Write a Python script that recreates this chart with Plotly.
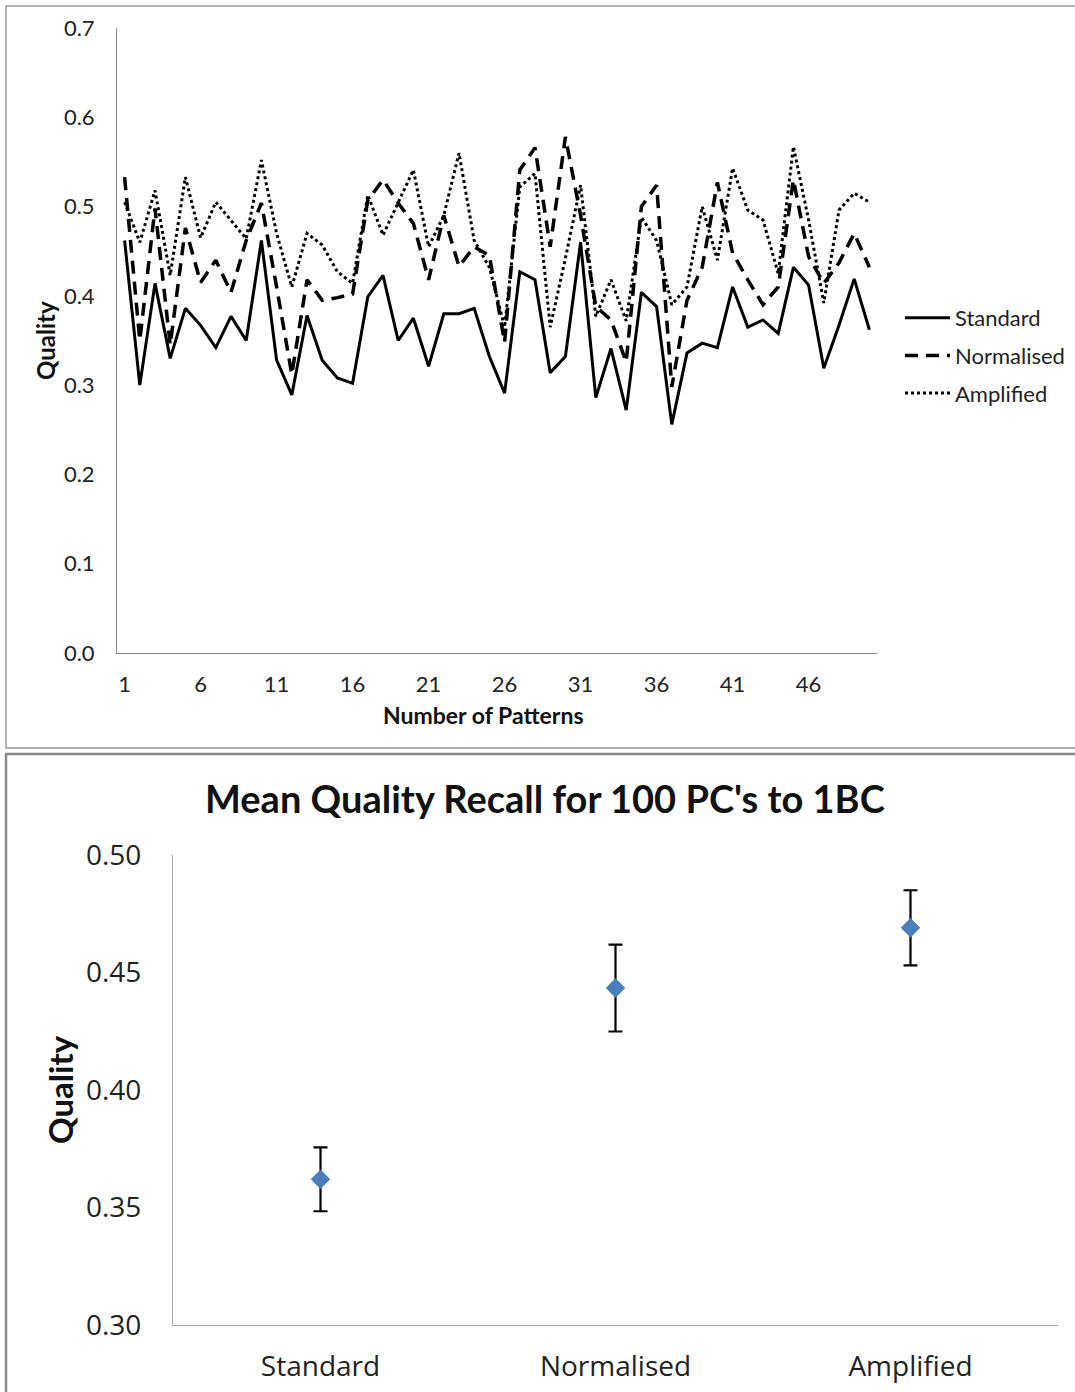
import plotly.graph_objects as go

# ---- Quality per pattern count (top chart) ----
patterns = list(range(1, 51))

standard = [0.462, 0.300, 0.414, 0.330, 0.386, 0.367, 0.342, 0.377, 0.350, 0.462,
            0.328, 0.289, 0.378, 0.328, 0.308, 0.302, 0.399, 0.423, 0.350, 0.375,
            0.321, 0.380, 0.380, 0.386, 0.332, 0.291, 0.427, 0.418, 0.314, 0.332,
            0.460, 0.286, 0.341, 0.272, 0.404, 0.388, 0.256, 0.336, 0.347, 0.342,
            0.410, 0.365, 0.373, 0.358, 0.432, 0.412, 0.319, 0.367, 0.419, 0.362]

normalised = [0.533, 0.350, 0.498, 0.345, 0.476, 0.415, 0.440, 0.404, 0.462, 0.504,
              0.410, 0.312, 0.418, 0.395, 0.398, 0.402, 0.507, 0.530, 0.504, 0.481,
              0.418, 0.490, 0.433, 0.455, 0.445, 0.348, 0.541, 0.566, 0.455, 0.578,
              0.490, 0.388, 0.373, 0.326, 0.500, 0.524, 0.298, 0.395, 0.432, 0.527,
              0.448, 0.418, 0.390, 0.410, 0.530, 0.444, 0.414, 0.437, 0.470, 0.432]

amplified = [0.505, 0.460, 0.518, 0.423, 0.533, 0.465, 0.505, 0.485, 0.464, 0.552,
             0.470, 0.410, 0.470, 0.457, 0.427, 0.414, 0.513, 0.468, 0.504, 0.541,
             0.455, 0.490, 0.560, 0.462, 0.432, 0.365, 0.522, 0.537, 0.365, 0.442,
             0.524, 0.377, 0.418, 0.372, 0.488, 0.462, 0.390, 0.410, 0.500, 0.440,
             0.543, 0.496, 0.485, 0.425, 0.567, 0.485, 0.392, 0.496, 0.515, 0.505]

x_ticks = [1, 6, 11, 16, 21, 26, 31, 36, 41, 46]
y_ticks_top = [0.0, 0.1, 0.2, 0.3, 0.4, 0.5, 0.6, 0.7]

# ---- Mean quality with error bars (bottom chart) ----
methods = ["Standard", "Normalised", "Amplified"]
mean_quality = [0.362, 0.4434, 0.4690]
quality_err = [0.0136, 0.0185, 0.0160]
y_ticks_bottom = [0.30, 0.35, 0.40, 0.45, 0.50]

W, H = 1075, 1392


def px(x):
    return x / W


def py(y):
    return (H - y) / H


CAL = "Lato, 'Open Sans', sans-serif"
SEG = "'Open Sans', 'Noto Sans', sans-serif"

fig = go.Figure()

fig.add_trace(go.Scatter(x=patterns, y=standard, mode="lines", name="Standard",
                         legendgroup="a",
                         line=dict(color="black", width=3), xaxis="x", yaxis="y"))
fig.add_trace(go.Scatter(x=patterns, y=normalised, mode="lines", name="Normalised",
                         legendgroup="b",
                         line=dict(color="black", width=3.5, dash="13px,8px"),
                         xaxis="x", yaxis="y"))
fig.add_trace(go.Scatter(x=patterns, y=amplified, mode="lines", name="Amplified",
                         legendgroup="c",
                         line=dict(color="black", width=3, dash="3px,3px"),
                         xaxis="x", yaxis="y"))

fig.add_trace(go.Scatter(x=methods, y=mean_quality, mode="markers", showlegend=False,
                         marker=dict(symbol="diamond", size=15, color="#4A7EBB"),
                         error_y=dict(type="data", array=quality_err, visible=True,
                                      color="black", thickness=2.2, width=7),
                         xaxis="x2", yaxis="y2"))

fig.update_layout(
    template="none",
    width=W, height=H,
    margin=dict(l=0, r=0, t=0, b=0, pad=0, autoexpand=False),
    paper_bgcolor="white", plot_bgcolor="white",
    font=dict(family=CAL, color="#222"),
    showlegend=True,
    legend=dict(x=px(900), y=py(297), xanchor="left", yanchor="top",
                font=dict(family=CAL, size=22, color="#222"),
                itemwidth=45, tracegroupgap=6, bgcolor="rgba(0,0,0,0)"),
    xaxis=dict(domain=[px(117), px(877)], anchor="y", range=[0.5, 50.5],
               automargin=False,
               tickmode="array", tickvals=x_ticks, showgrid=False, zeroline=False,
               showline=True, linecolor="#888", linewidth=1, ticks="",
               ticklabelstandoff=12, tickfont=dict(family=CAL, size=22, color="#222")),
    yaxis=dict(domain=[py(653), py(28)], anchor="x", range=[0, 0.7],
               automargin=False,
               tickmode="array", tickvals=y_ticks_top, tickformat=".1f",
               showgrid=False, zeroline=False, showline=True, linecolor="#888",
               linewidth=1, ticks="", ticklabelstandoff=17,
               tickfont=dict(family=CAL, size=22, color="#222")),
    xaxis2=dict(domain=[px(173), px(1058)], anchor="y2", type="category",
                automargin=False,
                range=[-0.5, 2.5], showgrid=False, zeroline=False, showline=True,
                linecolor="#aaa", linewidth=1.2, ticks="", ticklabelstandoff=16,
                tickfont=dict(family=SEG, size=28, color="#222")),
    yaxis2=dict(domain=[py(1325), py(855)], anchor="x2", range=[0.30, 0.50],
                automargin=False,
                tickmode="array", tickvals=y_ticks_bottom, tickformat=".2f",
                showgrid=False, zeroline=False, showline=True, linecolor="#aaa",
                linewidth=1.2, ticks="", ticklabelstandoff=25,
                tickfont=dict(family=SEG, size=28, color="#222")),
)

annotations = [
    dict(text="<b>Quality</b>", x=px(45), y=py(341), textangle=-90,
         font=dict(family=CAL, size=24, color="#111")),
    dict(text="<b>Number of Patterns</b>", x=px(483), y=py(715),
         font=dict(family=CAL, size=23, color="#111")),
    dict(text="<b>Mean Quality Recall for 100 PC's to 1BC</b>", x=px(545), y=py(798),
         font=dict(family=CAL, size=38, color="#111")),
    dict(text="<b>Quality</b>", x=px(60), y=py(1090), textangle=-90,
         font=dict(family=CAL, size=33, color="#111")),
]
for a in annotations:
    a.update(xref="paper", yref="paper", showarrow=False, xanchor="center", yanchor="middle")
fig.update_layout(annotations=annotations)

# chart frames
fig.add_shape(type="rect", xref="paper", yref="paper",
              x0=px(6), x1=px(1078), y0=py(748), y1=py(6),
              line=dict(color="#999", width=1.5), fillcolor="rgba(0,0,0,0)")
fig.add_shape(type="rect", xref="paper", yref="paper",
              x0=px(6), x1=px(1078), y0=py(1396), y1=py(754),
              line=dict(color="#888", width=2.5), fillcolor="rgba(0,0,0,0)")

fig.write_html("out.html")
